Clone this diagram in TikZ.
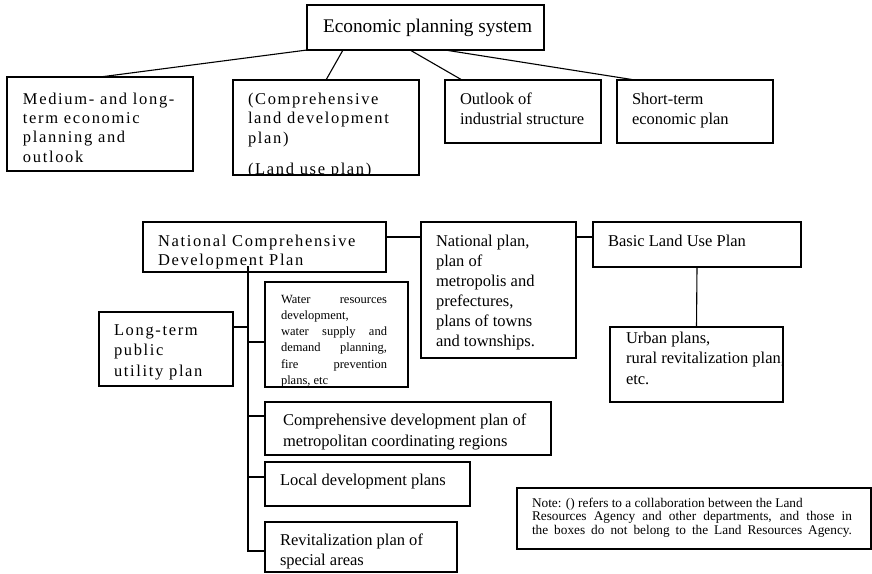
\documentclass[tikz,border=0pt]{standalone}
\usepackage{fontspec}
\setmainfont{Liberation Serif}
\newfontfamily\widefont[LetterSpace=10]{Liberation Serif}
\usetikzlibrary{calc}
% a stack of lines whose baseline is that of the first line
\newcommand\linesof[1]{\begin{tabular}[t]{@{}l@{}}#1\end{tabular}}

\tikzset{
  box/.style={draw, line width=1.1pt, anchor=north west, inner sep=0pt, outer sep=0pt},
  sized/.style 2 args={minimum width=#1, minimum height=#2},
  txt/.style={anchor=base west, inner sep=0pt, outer sep=0pt},
  link/.style={line width=1.1pt},
  reg/.style={font=\fontsize{16.5}{#1}\selectfont},
  wide/.style={font=\widefont\fontsize{16.5}{#1}\selectfont},
}

\begin{document}
\begin{tikzpicture}[x=1pt, y=-1pt]
\useasboundingbox (0,0) rectangle (872,573);

% ---------- economic planning system ----------
\node[box, sized={237pt}{45pt}] (econ) at (307,5) {};
\node[box, sized={186pt}{94pt}] (med) at (7,77) {};
\node[box, sized={186pt}{95pt}] (comp) at (233,80) {};
\node[box, sized={156pt}{63pt}] (outl) at (445,80) {};
\node[box, sized={156pt}{63pt}] (short) at (617,80) {};

\node[txt, font=\fontsize{19.3}{22}\selectfont] (econ-t) at (323,32) {Economic planning system};
\node[txt, wide=19.4] (med-t) at (23,104)
  {\linesof{Medium- and long-\\term economic\\planning and\\outlook}};
\begin{scope}
  \clip (comp.north west) rectangle (comp.south east);
  \node[txt, wide=19.5] (comp-t) at (248,104)
    {\linesof{(Comprehensive\\land development\\plan)\\[12pt](Land use plan)}};
\end{scope}
\node[txt, reg=20] (outl-t) at (460,104) {\linesof{Outlook of\\industrial structure}};
\node[txt, reg=20] (short-t) at (632,104) {\linesof{Short-term\\economic plan}};

\draw[link] (econ.south west) -- (med.north);
\draw[link] ($(econ.south west)+(36,0)$) -- (comp.north);
\draw[link] ($(econ.south west)+(103,0)$) -- ($(outl.north west)+(17,0)$);
\draw[link] ($(econ.south west)+(138,0)$) -- ($(short.north west)+(18,0)$);

% ---------- land development plans ----------
\node[box, sized={243pt}{50pt}] (ncdp) at (143,222) {};
\node[box, sized={155pt}{136pt}] (natl) at (421,222) {};
\node[box, sized={208pt}{45pt}] (basic) at (593,222) {};
\node[box, sized={173pt}{75pt}] (urban) at (610,327) {};
\node[box, sized={134pt}{74pt}] (long) at (99,312) {};
\node[box, sized={143pt}{105pt}] (water) at (265,282) {};
\node[box, sized={286pt}{53pt}] (cdev) at (265,402) {};
\node[box, sized={205pt}{44pt}] (local) at (265,462) {};
\node[box, sized={192pt}{50pt}] (revit) at (265,522) {};
\node[box, sized={354pt}{61pt}] (note) at (517,488) {};

\node[txt, wide=19.5] (ncdp-t) at (158,246)
  {\linesof{National Comprehensive\\Development Plan}};
\node[txt, reg=20] (natl-t) at (436,246)
  {\linesof{National plan,\\plan of\\metropolis and\\prefectures,\\plans of towns\\and townships.}};
\node[txt, reg=20] (basic-t) at (608,246) {Basic Land Use Plan};
\node[txt, reg=20.5] (urban-t) at (626,343)
  {\linesof{Urban plans,\\rural revitalization plan,\\etc.}};
\node[txt, wide=20.5] (long-t) at (114,335) {\linesof{Long-term\\public\\utility plan}};
\begin{scope}
  \clip (water.north west) rectangle (water.south east);
  \node[txt, font=\fontsize{12.5}{16.3}\selectfont] (water-t) at (281,303)
    {\linesof{\makebox[106pt][s]{Water resources}\\development,\\
      \makebox[106pt][s]{water supply and}\\\makebox[106pt][s]{demand planning,}\\
      \makebox[106pt][s]{fire prevention}\\plans, etc}};
\end{scope}
\node[txt, reg=21] (cdev-t) at (283,425)
  {\linesof{Comprehensive development plan of\\metropolitan coordinating regions}};
\node[txt, reg=20] (local-t) at (280,485) {Local development plans};
\node[txt, reg=20] (revit-t) at (280,545) {\linesof{Revitalization plan of\\special areas}};
\node[txt, font=\fontsize{13.3}{13.5}\selectfont] (note-t) at (532,507)
  {\vtop{\baselineskip=13.6pt\lineskiplimit=-20pt
    \hbox{Note: () refers to a collaboration between the Land}
    \hbox to 320pt{Resources Agency and other departments, and those in}
    \hbox to 320pt{the boxes do not belong to the Land Resources Agency.}}};

\draw[link] ($(ncdp.north east)+(0,15)$) -- ($(natl.north west)+(0,15)$);
\draw[link] ($(natl.north east)+(0,15)$) -- ($(basic.north west)+(0,15)$);
\draw[link] (basic.south) -- (urban.north);

\coordinate (trunktop) at ($(ncdp.south west)+(105,-6)$);
\draw[link] (trunktop) |- ($(revit.north west)+(0,29)$);
\draw[link] ($(long.north east)+(0,15)$) -- ++(15,0);
\draw[link] ($(water.north west)+(0,60)$) -- ++(-17,0);
\draw[link] ($(cdev.north west)+(0,14)$) -- ++(-17,0);
\draw[link] ($(local.north west)+(0,15)$) -- ++(-17,0);
\end{tikzpicture}
\end{document}
